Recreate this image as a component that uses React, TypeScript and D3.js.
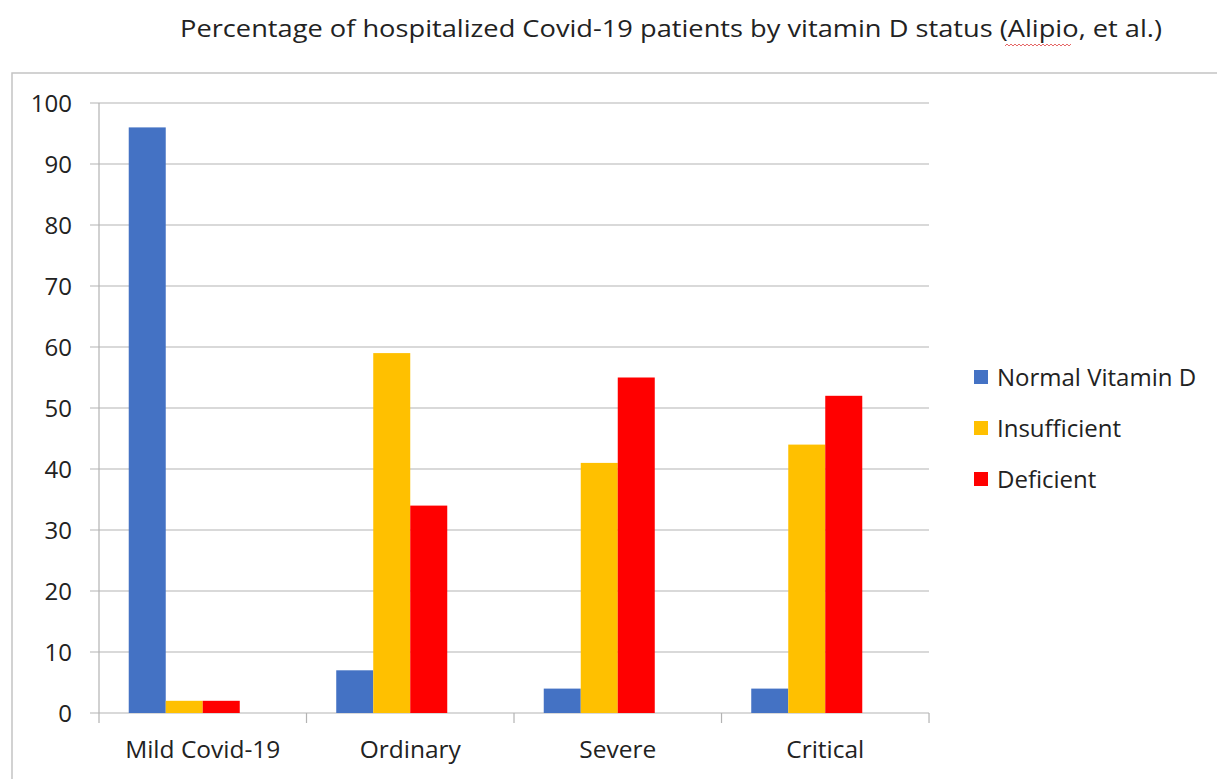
import React from "react";
import * as d3 from "d3";

const title = "Percentage of hospitalized Covid-19 patients by vitamin D status (Alipio, et al.)";
const categories = ["Mild Covid-19", "Ordinary", "Severe", "Critical"];
const seriesNames = ["Normal Vitamin D", "Insufficient", "Deficient"];
const seriesColors = ["#4472C4", "#FFC000", "#FF0000"];
const normalValues = [96, 7, 4, 4];
const insufficientValues = [2, 59, 41, 44];
const deficientValues = [2, 34, 55, 52];
const yTicks = [0, 10, 20, 30, 40, 50, 60, 70, 80, 90, 100];

const W = 1217;
const H = 779;
const FONT = "'Open Sans', 'Noto Sans', sans-serif";

export default function App() {
  const plot = { left: 99, right: 929, top: 103, bottom: 713 };

  const x0 = d3
    .scaleBand<string>()
    .domain(categories)
    .range([plot.left, plot.right])
    .paddingInner(0.2867)
    .paddingOuter(0.1433);

  // Excel leaves room for a fourth (empty) series slot in each group
  const x1 = d3
    .scaleBand<string>()
    .domain([...seriesNames, "_blank"])
    .range([0, x0.bandwidth()]);

  const y = d3.scaleLinear().domain([0, 100]).range([plot.bottom, plot.top]);

  const series = [normalValues, insufficientValues, deficientValues];
  const step = x0.step();
  const boundaries = d3.range(categories.length + 1).map((i) => plot.left + i * step);

  // red spell-check squiggle under "Alipio"
  const squiggle = d3.range(0, 68, 2).map((d, i) => [d, i % 2 ? 0 : 2] as [number, number]);

  return (
    <svg width={W} height={H} style={{ position: "absolute", left: 0, top: 0, background: "#fff" }}>
      <rect x={12} y={73} width={W} height={H} fill="#fff" stroke="#c4c4c4" strokeWidth={1.5} />
      <text x={180} y={37} fontFamily={FONT} fontSize={23.5} fill="#222" textLength={982} lengthAdjust="spacingAndGlyphs">
        {title}
      </text>
      <path
        d={d3.line()(squiggle) ?? ""}
        transform="translate(1005,44)"
        fill="none"
        stroke="#e04040"
        strokeWidth={0.8}
      />

      {yTicks.map((t) => (
        <g key={t}>
          <line x1={90} x2={plot.right} y1={y(t)} y2={y(t)} stroke="#b3b3b3" strokeWidth={1.2} />
          <text
            x={72}
            y={y(t)}
            dy="0.36em"
            textAnchor="end"
            fontFamily={FONT}
            fontSize={24}
            fill="#222"
          >
            {t}
          </text>
        </g>
      ))}
      <line x1={plot.left} x2={plot.left} y1={plot.top} y2={plot.bottom} stroke="#b3b3b3" strokeWidth={1.2} />
      {boundaries.map((bx, i) => (
        <line key={i} x1={bx} x2={bx} y1={plot.bottom} y2={plot.bottom + 10} stroke="#b3b3b3" strokeWidth={1.2} />
      ))}

      {categories.map((c, ci) => (
        <g key={c} transform={`translate(${x0(c)},0)`}>
          {series.map((vals, si) => (
            <rect
              key={si}
              x={x1(seriesNames[si])}
              y={y(vals[ci])}
              width={x1.bandwidth()}
              height={y(0) - y(vals[ci])}
              fill={seriesColors[si]}
            />
          ))}
        </g>
      ))}

      {categories.map((c) => (
        <text
          key={c}
          x={(x0(c) ?? 0) - (step * 0.1433) + step / 2}
          y={758}
          textAnchor="middle"
          fontFamily={FONT}
          fontSize={24.5}
          fill="#222"
        >
          {c}
        </text>
      ))}

      {seriesNames.map((s, i) => (
        <g key={s} transform={`translate(974,${377 + i * 51})`}>
          <rect x={0} y={-7} width={14} height={14} fill={seriesColors[i]} />
          <text x={23} y={0} dy="0.36em" fontFamily={FONT} fontSize={24} fill="#222">
            {s}
          </text>
        </g>
      ))}
    </svg>
  );
}
